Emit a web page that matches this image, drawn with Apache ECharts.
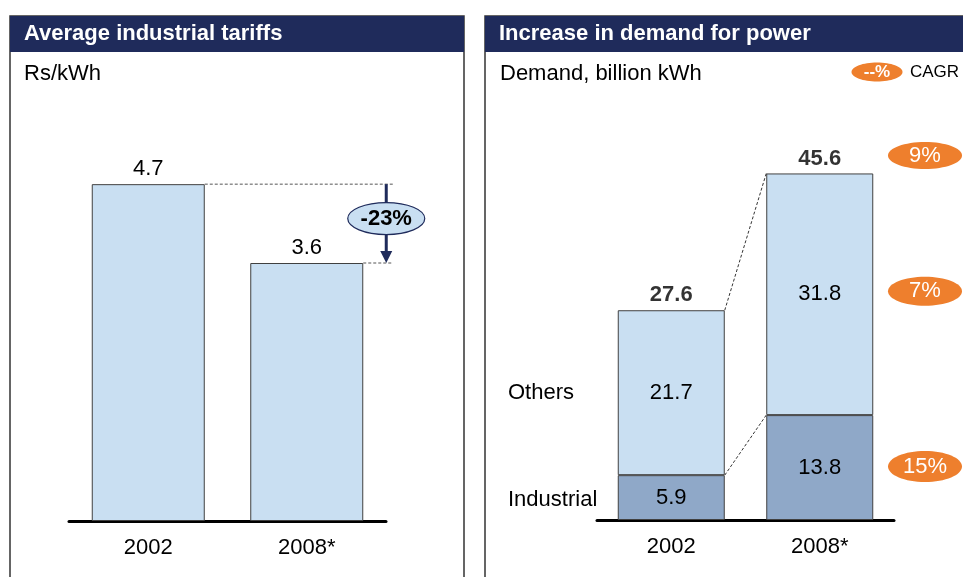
<!DOCTYPE html>
<html><head><meta charset="utf-8">
<script src="https://cdn.jsdelivr.net/npm/echarts@6/dist/echarts.min.js"></script>
<style>html,body{margin:0;padding:0;background:#fff}#c{width:963px;height:577px}</style>
</head><body><div id="c"></div>
<script>
const categories = ['2002', '2008*'];
const tariffs = [4.7, 3.6];
const tariffChange = '-23%';
const industrial = [5.9, 13.8];
const others = [21.7, 31.8];
const totals = [27.6, 45.6];
const cagrTotal = '9%';
const cagrOthers = '7%';
const cagrIndustrial = '15%';
const leftTitle = 'Average industrial tariffs';
const leftUnit = 'Rs/kWh';
const rightTitle = 'Increase in demand for power';
const rightUnit = 'Demand, billion kWh';

const FONT = '"Liberation Sans", Arial, sans-serif';
const NAVY = '#1F2B5B';
const LIGHT = '#C9DFF2';
const DARK = '#8FA8C8';
const ORANGE = '#EE7F2D';
const BW0 = 113, BW1 = 107;

const chart = echarts.init(document.getElementById('c'), null, {renderer: 'canvas'});

const axisCommon = {
  type: 'category',
  axisLine: {lineStyle: {color: '#000', width: 3}},
  axisTick: {show: false},
  axisLabel: {fontFamily: FONT, fontSize: 22, color: '#000', margin: 16}
};

chart.setOption({
  animation: false,
  textStyle: {fontFamily: FONT},
  grid: [
    {left: 69, width: 317, top: 91, height: 430},
    {left: 597, width: 297, top: 64, height: 456}
  ],
  xAxis: [
    Object.assign({gridIndex: 0, data: categories}, axisCommon),
    Object.assign({gridIndex: 1, data: categories}, axisCommon)
  ],
  yAxis: [
    {gridIndex: 0, type: 'value', min: 0, max: 6, show: false},
    {gridIndex: 1, type: 'value', min: 0, max: 60, show: false}
  ],
  series: [
    {
      type: 'bar', xAxisIndex: 0, yAxisIndex: 0, data: tariffs, barWidth: BW0,
      itemStyle: {color: LIGHT, borderColor: '#404040', borderWidth: 1},
      label: {show: true, position: 'top', distance: 4, fontFamily: FONT, fontSize: 22, color: '#000'}
    },
    {
      type: 'bar', xAxisIndex: 1, yAxisIndex: 1, stack: 'd', data: industrial, barWidth: BW1,
      itemStyle: {color: DARK, borderColor: '#404040', borderWidth: 1},
      label: {show: true, position: 'inside', fontFamily: FONT, fontSize: 22, color: '#000'}
    },
    {
      type: 'bar', xAxisIndex: 1, yAxisIndex: 1, stack: 'd', data: others, barWidth: BW1,
      itemStyle: {color: LIGHT, borderColor: '#404040', borderWidth: 1},
      label: {show: true, position: 'inside', fontFamily: FONT, fontSize: 22, color: '#000'}
    },
    {
      type: 'scatter', xAxisIndex: 1, yAxisIndex: 1, symbolSize: 0,
      data: totals.map((v, i) => [categories[i], v]),
      label: {show: true, position: 'top', distance: 4, fontFamily: FONT, fontSize: 22, fontWeight: 'bold', color: '#000',
        formatter: p => p.value[1].toFixed(1)}
    }
  ]
});

const px = (g, cat, v) => chart.convertToPixel({gridIndex: g}, [cat, v]);

// left annotations
const a0 = px(0, categories[0], tariffs[0]);
const a1 = px(0, categories[1], tariffs[1]);
const arrowX = a1[0] + BW0 / 2 + 23;
const dashEnd = arrowX + 7;

// right connectors
const t0 = px(1, categories[0], totals[0]);
const t1 = px(1, categories[1], totals[1]);
const i0 = px(1, categories[0], industrial[0]);
const i1 = px(1, categories[1], industrial[1]);
const o0 = px(1, categories[0], industrial[0] + others[0] / 2);
const o1 = px(1, categories[1], industrial[1] + others[1] / 2);
const m0 = px(1, categories[0], industrial[0] / 2);
const m1 = px(1, categories[1], industrial[1] / 2);

const ovalX = 925;
function oval(cx, cy, w, h, txt, fs, bold) {
  return [
    {type: 'ellipse', shape: {cx: cx, cy: cy, rx: w / 2, ry: h / 2}, style: {fill: ORANGE}, z: 10},
    {type: 'text', x: cx, y: cy, z: 11, style: {text: txt, fill: '#fff', font: (bold ? 'bold ' : '') + fs + 'px ' + FONT, textAlign: 'center', textVerticalAlign: 'middle'}}
  ];
}

const g = [
  // panel frames
  {type: 'rect', shape: {x: 10, y: 16, width: 454, height: 600}, style: {fill: 'none', stroke: '#333', lineWidth: 1.5}, z: 1},
  {type: 'rect', shape: {x: 10, y: 16, width: 454, height: 36}, style: {fill: NAVY}, z: 2},
  {type: 'rect', shape: {x: 485, y: 16, width: 520, height: 600}, style: {fill: 'none', stroke: '#333', lineWidth: 1.5}, z: 1},
  {type: 'rect', shape: {x: 485, y: 16, width: 520, height: 36}, style: {fill: NAVY}, z: 2},
  {type: 'text', x: 24, y: 34, z: 3, style: {text: leftTitle, fill: '#fff', font: 'bold 22px ' + FONT, textVerticalAlign: 'middle'}},
  {type: 'text', x: 499, y: 34, z: 3, style: {text: rightTitle, fill: '#fff', font: 'bold 22px ' + FONT, textVerticalAlign: 'middle'}},
  {type: 'text', x: 24, y: 74, z: 3, style: {text: leftUnit, fill: '#000', font: '22px ' + FONT, textVerticalAlign: 'middle'}},
  {type: 'text', x: 500, y: 74, z: 3, style: {text: rightUnit, fill: '#000', font: '22px ' + FONT, textVerticalAlign: 'middle'}},
  // left dashed guides
  {type: 'line', shape: {x1: a0[0] + BW0 / 2, y1: a0[1], x2: dashEnd, y2: a0[1]}, style: {stroke: '#555', lineWidth: 1, lineDash: [3, 2]}, z: 5},
  {type: 'line', shape: {x1: a1[0] + BW0 / 2, y1: a1[1], x2: dashEnd, y2: a1[1]}, style: {stroke: '#555', lineWidth: 1, lineDash: [3, 2]}, z: 5},
  // arrow
  {type: 'line', shape: {x1: arrowX, y1: a0[1], x2: arrowX, y2: a1[1] - 10}, style: {stroke: NAVY, lineWidth: 3}, z: 6},
  {type: 'polygon', shape: {points: [[arrowX - 6, a1[1] - 12], [arrowX + 6, a1[1] - 12], [arrowX, a1[1]]]}, style: {fill: NAVY}, z: 6},
  {type: 'ellipse', shape: {cx: arrowX, cy: (a0[1] + a1[1]) / 2 - 5, rx: 38.5, ry: 16}, style: {fill: LIGHT, stroke: NAVY, lineWidth: 1.2}, z: 7},
  {type: 'text', x: arrowX, y: (a0[1] + a1[1]) / 2 - 5, z: 8, style: {text: tariffChange, fill: '#000', font: 'bold 22px ' + FONT, textAlign: 'center', textVerticalAlign: 'middle'}},
  // right connectors
  {type: 'line', shape: {x1: t0[0] + BW1 / 2, y1: t0[1], x2: t1[0] - BW1 / 2, y2: t1[1]}, style: {stroke: '#333', lineWidth: 1, lineDash: [3, 2]}, z: 5},
  {type: 'line', shape: {x1: i0[0] + BW1 / 2, y1: i0[1], x2: i1[0] - BW1 / 2, y2: i1[1]}, style: {stroke: '#333', lineWidth: 1, lineDash: [3, 2]}, z: 5},
  // segment names
  {type: 'text', x: 508, y: o0[1], z: 5, style: {text: 'Others', fill: '#000', font: '22px ' + FONT, textVerticalAlign: 'middle'}},
  {type: 'text', x: 508, y: m0[1] + 2, z: 5, style: {text: 'Industrial', fill: '#000', font: '22px ' + FONT, textVerticalAlign: 'middle'}},
  // legend
  {type: 'text', x: 910, y: 72, z: 5, style: {text: 'CAGR', fill: '#000', font: '17px ' + FONT, textVerticalAlign: 'middle'}}
]
.concat(oval(877, 72, 51, 19, '--%', 17, true))
.concat(oval(ovalX, t1[1] - 18, 74, 27, cagrTotal, 22, false))
.concat(oval(ovalX, o1[1] - 3, 74, 29, cagrOthers, 22, false))
.concat(oval(ovalX, m1[1] - 1, 74, 31, cagrIndustrial, 22, false));

chart.setOption({graphic: g});
</script>
</body></html>
